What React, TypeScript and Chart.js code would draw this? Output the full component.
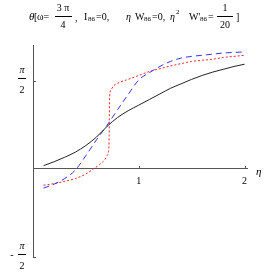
import React, { useEffect, useRef } from "react";
import { Chart, registerables } from "chart.js";

Chart.register(...registerables);

const PI_2 = Math.PI / 2;

const etaBlack = [0.1, 0.2, 0.3, 0.4, 0.5, 0.6, 0.7, 0.8, 0.9, 1.0, 1.1, 1.2, 1.3, 1.4, 1.5, 1.6, 1.7, 1.8, 1.9, 2.0];
const thetaBlack = [0.06, 0.13, 0.21, 0.30, 0.42, 0.57, 0.76, 0.92, 1.04, 1.14, 1.24, 1.34, 1.44, 1.52, 1.60, 1.67, 1.73, 1.78, 1.83, 1.87];

const etaBlue = [0.1, 0.2, 0.3, 0.4, 0.5, 0.6, 0.7, 0.8, 0.9, 1.0, 1.1, 1.2, 1.3, 1.4, 1.5, 1.6, 1.7, 1.8, 1.9, 2.0];
const thetaBlue = [-0.34, -0.27, -0.17, -0.02, 0.24, 0.52, 0.78, 1.06, 1.33, 1.59, 1.72, 1.83, 1.92, 1.98, 2.01, 2.03, 2.05, 2.07, 2.08, 2.09];

const etaRed = [0.1, 0.2, 0.3, 0.4, 0.5, 0.57, 0.63, 0.68, 0.7, 0.715, 0.72, 0.722, 0.725, 0.74, 0.76, 0.8, 0.9, 1.0, 1.1, 1.2, 1.3, 1.4, 1.5, 1.6, 1.7, 1.8, 1.9, 2.0];
const thetaRed = [-0.29, -0.26, -0.22, -0.17, -0.09, 0.0, 0.08, 0.17, 0.24, 0.34, 0.6, 1.0, 1.3, 1.42, 1.48, 1.53, 1.60, 1.67, 1.74, 1.79, 1.84, 1.88, 1.92, 1.94, 1.96, 1.99, 2.01, 2.03];

const xTicks = [1, 2];
const yTicks = [PI_2, -PI_2];

const toPts = (xs: number[], ys: number[]) => xs.map((x, i) => ({ x, y: ys[i] }));

const FONT = "'Liberation Serif', 'DejaVu Serif', serif";

function txt(ctx: CanvasRenderingContext2D, s: string, x: number, y: number, size: number, align: CanvasTextAlign = "left", italic = false) {
  ctx.font = `${italic ? "italic " : ""}${size}px ${FONT}`;
  ctx.textAlign = align;
  ctx.textBaseline = "middle";
  ctx.fillText(s, x, y);
}

function hline(ctx: CanvasRenderingContext2D, x1: number, x2: number, y: number) {
  ctx.beginPath();
  ctx.moveTo(x1, y + 0.5);
  ctx.lineTo(x2, y + 0.5);
  ctx.stroke();
}

const overlay = {
  id: "overlay",
  afterDraw(chart: any) {
    const ctx: CanvasRenderingContext2D = chart.ctx;
    const xs = chart.scales.x;
    const ys = chart.scales.y;
    const x0 = xs.getPixelForValue(0);
    const y0 = ys.getPixelForValue(0);
    ctx.save();
    ctx.fillStyle = "#000";
    ctx.strokeStyle = "#555";
    ctx.lineWidth = 1;
    // tick marks
    xTicks.forEach((v) => {
      const px = Math.round(xs.getPixelForValue(v)) + 0.5;
      ctx.beginPath();
      ctx.moveTo(px, y0);
      ctx.lineTo(px, y0 - 3);
      ctx.stroke();
    });
    yTicks.forEach((v) => {
      const py = Math.round(ys.getPixelForValue(v)) + 0.5;
      ctx.beginPath();
      ctx.moveTo(x0, py);
      ctx.lineTo(x0 + 3, py);
      ctx.stroke();
    });
    // x tick labels
    xTicks.forEach((v) => txt(ctx, String(v), xs.getPixelForValue(v), y0 + 12, 10, "center"));
    // y tick labels (fractions)
    ctx.strokeStyle = "#000";
    yTicks.forEach((v) => {
      const py = ys.getPixelForValue(v);
      txt(ctx, "π", 22, py - 11, 10, "center", true);
      hline(ctx, 18, 26, py - 3);
      txt(ctx, "2", 22, py + 9, 10, "center");
      if (v < 0) txt(ctx, "-", 12, py - 2, 10, "center");
    });
    // axis label
    txt(ctx, "η", xs.right + 9, y0 + 3, 11, "left", true);

    // title
    const ty = 17;
    txt(ctx, "θ", 29, ty, 11, "left", true);
    txt(ctx, "[", 34, ty, 10);
    txt(ctx, "ω=", 37, ty, 10);
    txt(ctx, "3 π", 63, 8, 10, "center");
    hline(ctx, 55, 72, 16);
    txt(ctx, "4", 63, 25, 10, "center");
    txt(ctx, ",", 75, ty + 1, 10);
    txt(ctx, "I", 84, ty, 10);
    txt(ctx, "86", 88, ty + 2, 7);
    txt(ctx, "=0,", 96, ty, 10);
    txt(ctx, "η", 126, ty, 10, "left", true);
    txt(ctx, "W", 135, ty, 10);
    txt(ctx, "86", 144, ty + 2, 7);
    txt(ctx, "=0,", 152, ty, 10);
    txt(ctx, "η", 170, ty, 10, "left", true);
    txt(ctx, "2", 176, ty - 5, 7);
    txt(ctx, "W'", 189, ty, 10);
    txt(ctx, "86", 200, ty + 2, 7);
    txt(ctx, "=", 208, ty, 10);
    txt(ctx, "1", 225, 8, 10, "center");
    hline(ctx, 217, 233, 16);
    txt(ctx, "20", 225, 25, 10, "center");
    txt(ctx, "]", 236, ty, 10);
    ctx.restore();
  },
};

export default function App() {
  const ref = useRef<HTMLCanvasElement>(null);
  useEffect(() => {
    const canvas = ref.current;
    if (!canvas) return;
    const common = { showLine: true, pointRadius: 0, borderWidth: 1, cubicInterpolationMode: "monotone" as const, fill: false };
    const chart = new Chart(canvas, {
      type: "scatter",
      data: {
        datasets: [
          { ...common, label: "black", data: toPts(etaBlack, thetaBlack), borderColor: "#222" },
          { ...common, label: "blue", data: toPts(etaBlue, thetaBlue), borderColor: "#3333ff", borderDash: [6, 4] },
          { ...common, label: "red", data: toPts(etaRed, thetaRed), borderColor: "#ff2222", borderDash: [2, 2] },
        ],
      },
      options: {
        responsive: false,
        animation: false,
        devicePixelRatio: 1,
        layout: { padding: { left: 33, top: 45, right: 26, bottom: 16 } },
        plugins: { legend: { display: false }, tooltip: { enabled: false }, title: { display: false } },
        scales: {
          x: {
            type: "linear",
            min: 0,
            max: 2.023,
            position: { y: 0 } as any,
            grid: { display: false },
            border: { display: true, color: "#555", width: 1 },
            ticks: { display: false },
          },
          y: {
            type: "linear",
            min: -PI_2,
            max: 2.213,
            position: { x: 0 } as any,
            grid: { display: false },
            border: { display: true, color: "#555", width: 1 },
            ticks: { display: false },
          },
        },
      },
      plugins: [overlay],
    });
    return () => chart.destroy();
  }, []);
  return (
    <div style={{ position: "absolute", left: 0, top: 0, width: 273, height: 273, background: "#fff" }}>
      <canvas ref={ref} width={273} height={273} style={{ width: 273, height: 273 }} />
    </div>
  );
}
